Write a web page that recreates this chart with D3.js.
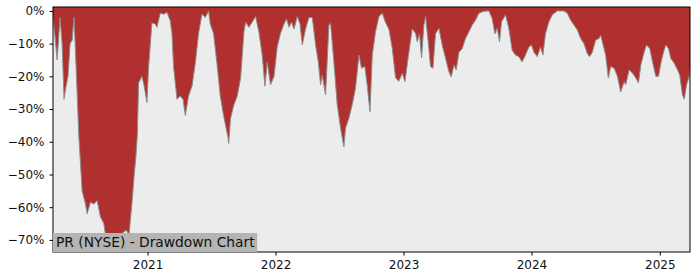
<!DOCTYPE html>
<html>
<head>
<meta charset="utf-8">
<script src="https://cdn.jsdelivr.net/npm/d3@7"></script>
<style>
  body { margin: 0; background: #fff; }
  #chart { width: 700px; height: 280px; }
  text { font-family: "DejaVu Sans", sans-serif; }
</style>
</head>
<body>
<div id="chart"></div>
<script>
// time in decimal years, drawdown in percent
const years = [
  2020.263, 2020.279, 2020.295, 2020.318, 2020.334, 2020.349, 2020.365, 2020.380, 2020.396, 2020.412,
  2020.427, 2020.443, 2020.464, 2020.490, 2020.516, 2020.529, 2020.555, 2020.581, 2020.607, 2020.633,
  2020.659, 2020.672, 2020.698, 2020.709, 2020.740, 2020.771, 2020.802, 2020.834, 2020.855, 2020.880,
  2020.896, 2020.908, 2020.920, 2020.930, 2020.956, 2020.974, 2020.995, 2021.008, 2021.034, 2021.060,
  2021.073, 2021.099, 2021.125, 2021.152, 2021.177, 2021.191, 2021.203, 2021.230, 2021.255, 2021.277,
  2021.295, 2021.320, 2021.347, 2021.373, 2021.398, 2021.425, 2021.451, 2021.477, 2021.490, 2021.516,
  2021.542, 2021.568, 2021.594, 2021.628, 2021.634, 2021.648, 2021.672, 2021.701, 2021.727, 2021.753,
  2021.766, 2021.792, 2021.818, 2021.844, 2021.870, 2021.896, 2021.917, 2021.935, 2021.961, 2021.988,
  2022.013, 2022.039, 2022.066, 2022.086, 2022.105, 2022.125, 2022.144, 2022.170, 2022.191, 2022.209,
  2022.234, 2022.261, 2022.287, 2022.313, 2022.334, 2022.352, 2022.365, 2022.391, 2022.417, 2022.430,
  2022.456, 2022.482, 2022.508, 2022.534, 2022.547, 2022.573, 2022.599, 2022.625, 2022.652, 2022.672,
  2022.698, 2022.716, 2022.738, 2022.756, 2022.781, 2022.808, 2022.834, 2022.859, 2022.886, 2022.912,
  2022.938, 2022.964, 2022.990, 2023.011, 2023.042, 2023.068, 2023.094, 2023.107, 2023.125, 2023.141,
  2023.159, 2023.172, 2023.193, 2023.211, 2023.230, 2023.250, 2023.277, 2023.302, 2023.328, 2023.355,
  2023.373, 2023.394, 2023.412, 2023.433, 2023.459, 2023.484, 2023.511, 2023.537, 2023.563, 2023.589,
  2023.628, 2023.667, 2023.693, 2023.714, 2023.732, 2023.750, 2023.766, 2023.797, 2023.823, 2023.849,
  2023.875, 2023.902, 2023.927, 2023.953, 2023.980, 2024.000, 2024.019, 2024.045, 2024.070, 2024.089,
  2024.109, 2024.136, 2024.162, 2024.201, 2024.253, 2024.279, 2024.305, 2024.331, 2024.357, 2024.383,
  2024.409, 2024.435, 2024.453, 2024.474, 2024.500, 2024.527, 2024.539, 2024.552, 2024.578, 2024.599,
  2024.617, 2024.644, 2024.670, 2024.695, 2024.722, 2024.734, 2024.761, 2024.787, 2024.813, 2024.834,
  2024.852, 2024.878, 2024.896, 2024.922, 2024.943, 2024.969, 2024.990, 2025.008, 2025.029, 2025.047,
  2025.068, 2025.086, 2025.113, 2025.138, 2025.156, 2025.177, 2025.191, 2025.209, 2025.230, 2025.236
];
const drawdown = [
  -2, -8, -15, -2, -10, -27, -23, -20, -10, -9,
  -2, -17, -38, -55, -59, -62, -58.5, -59, -58, -63,
  -65, -68.5, -73.4, -71.5, -68, -69, -68, -67, -68.5, -58,
  -50, -45, -38, -22, -20, -23, -28, -17, -3.7, -4,
  -5, -0.7, -1, -0.5, -3, -7, -17, -27, -26, -27,
  -32, -26, -23, -16, -7, -1, -2, 0, -4, -7,
  -16, -26, -32, -38.5, -40.5, -33, -29, -26, -20.5, -6.4,
  -3.4, -5, -3.4, -1.7, -6.4, -13.5, -23, -15.6, -22.6, -20,
  -11, -6.8, -4, -2.5, -5, -3.4, -5.6, -1.7, -3.9, -10.4,
  -5.6, -2, -2, -10.4, -15.6, -22.6, -19.6, -25.7, -4.3, -3.8,
  -15.6, -28.7, -35.8, -41.6, -35.8, -32.8, -28.7, -23.6, -13.5, -17.5,
  -17, -22.6, -30.8, -13.5, -6.4, -1.7, -0.7, -3.5, -5.6, -11.4,
  -20.5, -21.5, -19, -21.6, -12.6, -5.5, -6.8, -9.4, -7, -14.4,
  -4.3, -1.7, -9.4, -17, -17.5, -7, -5.3, -10.4, -14.4, -18.6,
  -20.2, -16.5, -18, -12.6, -11.5, -8.4, -6.4, -4.3, -2.8, -0.7,
  -0.1, 0, -2.3, -7, -5.3, -9.4, -3.3, -1.2, -5.3, -12,
  -13.5, -14, -15.6, -13.5, -11, -10.4, -12.6, -14, -11, -13.5,
  -7, -3.3, -1.2, 0, 0, -0.7, -2.8, -4.3, -5.8, -8.4,
  -10, -13, -14, -12.6, -8.9, -8.4, -7.4, -9.4, -13.5, -20.5,
  -17, -17.5, -20, -24.8, -21.6, -22.6, -18, -19, -20.5, -22,
  -16.5, -12.6, -10.4, -11.5, -15.5, -20, -20, -16, -12.6, -10.4,
  -11.5, -14.5, -16, -18, -19.6, -25.7, -27, -22.6, -20, -18
];
const yTicks = [0, -10, -20, -30, -40, -50, -60, -70];
const xTickYears = [2021, 2022, 2023, 2024, 2025];
const title = "PR (NYSE) - Drawdown Chart";

function yearToDate(t) {
  const y = Math.floor(t);
  const a = Date.UTC(y, 0, 1), b = Date.UTC(y + 1, 0, 1);
  return new Date(a + (t - y) * (b - a));
}

const data = years.map((t, i) => ({ date: yearToDate(t), value: drawdown[i] }));

const W = 700, H = 280;
const margin = { top: 7, right: 10, bottom: 28, left: 53 };
const width = W - margin.left - margin.right;
const height = H - margin.top - margin.bottom;

const svg = d3.select("#chart").append("svg")
  .attr("width", W)
  .attr("height", H);

const g = svg.append("g")
  .attr("transform", `translate(${margin.left},${margin.top})`);

const x = d3.scaleUtc()
  .domain(d3.extent(data, d => d.date))
  .range([0, width]);

const y = d3.scaleLinear()
  .domain([-73.7, 1.2])
  .range([height, 0]);

g.append("clipPath").attr("id", "clip")
  .append("rect").attr("width", width).attr("height", height);

// Background
g.append("rect")
  .attr("width", width)
  .attr("height", height)
  .attr("fill", "#ececec");

// Drawdown fill from top of plot down to the line
const area = d3.area()
  .x(d => x(d.date))
  .y0(0)
  .y1(d => y(d.value));

g.append("path")
  .datum(data)
  .attr("clip-path", "url(#clip)")
  .attr("fill", "#b03030")
  .attr("d", area);

g.append("path")
  .datum(data)
  .attr("clip-path", "url(#clip)")
  .attr("fill", "none")
  .attr("stroke", "#8c8c8c")
  .attr("stroke-width", 1)
  .attr("d", d3.line().x(d => x(d.date)).y(d => y(d.value)));

// Axes
const fmtPct = d => (d < 0 ? "\u2212" + Math.abs(d) : d) + "%";

g.append("g")
  .call(d3.axisLeft(y).tickValues(yTicks).tickFormat(fmtPct).tickSize(3.5).tickPadding(5))
  .call(a => a.select(".domain").remove())
  .call(a => a.selectAll("line").attr("stroke", "#000"))
  .call(a => a.selectAll("text").attr("fill", "#111").style("font-size", "12px")
    .style("font-family", "'DejaVu Sans', sans-serif"));

g.append("g")
  .attr("transform", `translate(0,${height})`)
  .call(d3.axisBottom(x).tickValues(xTickYears.map(yr => new Date(Date.UTC(yr, 0, 1))))
    .tickFormat(d3.utcFormat("%Y")).tickSize(3.5).tickPadding(5))
  .call(a => a.select(".domain").remove())
  .call(a => a.selectAll("line").attr("stroke", "#000"))
  .call(a => a.selectAll("text").attr("fill", "#111").style("font-size", "12px")
    .style("font-family", "'DejaVu Sans', sans-serif"));

// Frame
g.append("rect")
  .attr("x", 0).attr("y", 0)
  .attr("width", width).attr("height", height)
  .attr("fill", "none")
  .attr("stroke", "#000")
  .attr("stroke-width", 1);

// Title label box
const label = g.append("g").attr("transform", `translate(0,${height})`);
const labelText = label.append("text")
  .attr("x", 3)
  .attr("y", -5)
  .attr("fill", "#111")
  .style("font-size", "13.8px")
  .text(title);
const bb = labelText.node().getBBox();
label.insert("rect", "text")
  .attr("x", 0)
  .attr("y", -19)
  .attr("width", bb.width + 5)
  .attr("height", 19)
  .attr("fill", "#b4b4b4");
</script>
</body>
</html>
